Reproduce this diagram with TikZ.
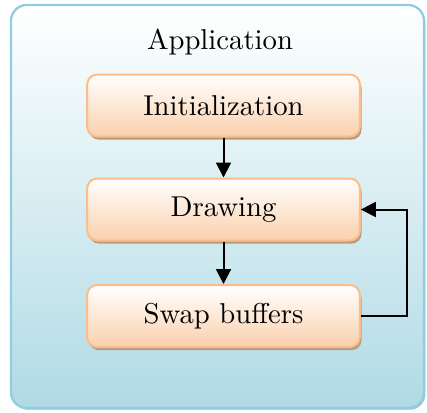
\documentclass[tikz,border=0pt]{standalone}
\usetikzlibrary{arrows.meta,shadows,positioning}
\definecolor{appborder}{RGB}{142,206,224}
\definecolor{appbottom}{RGB}{176,218,229}
\definecolor{stepborder}{RGB}{250,190,140}
\definecolor{stepbottom}{RGB}{250,208,172}
\definecolor{stepshadow}{RGB}{184,156,128}
\definecolor{appshadow}{RGB}{150,170,180}
\tikzset{
  appbox/.style={draw=appborder, line width=0.8pt, rounded corners=5.5pt,
    top color=white, bottom color=appbottom,
    drop shadow={shadow xshift=0.5pt, shadow yshift=-0.6pt, fill=appshadow, opacity=0.8}},
  stepbox/.style={draw=stepborder, line width=0.7pt, rounded corners=3.5pt,
    top color=white, bottom color=stepbottom,
    minimum width=95pt, minimum height=21.6pt, inner sep=0pt,
    drop shadow={shadow xshift=0.6pt, shadow yshift=-1.1pt, fill=stepshadow, opacity=1}},
  flow/.style={line width=0.7pt, -{Triangle[width=5.2pt,length=5.2pt]}}
}
\begin{document}
\begin{tikzpicture}[x=0.3484pt, y=-0.3484pt]
  \useasboundingbox (0,0) rectangle (427,412);
  % application frame
  \path[appbox] (11,5) rectangle (424,408);
  \node (title) at (220,42) {Application};
  % steps of the loop
  \node[stepbox] (init) at (223.5,105.5) {Initialization};
  \node[stepbox] (draw) at (223.5,209.5) {Drawing};
  \node[stepbox] (swap) at (223.5,316) {Swap buffers};
  \coordinate (loopa) at (407,316);
  \coordinate (loopb) at (407,209.5);
  % connectors
  \draw[flow] (init) -- (draw);
  \draw[flow] (draw) -- (swap);
  \draw[flow] (swap.east) -- (loopa) -- (loopb) -- (draw.east);
\end{tikzpicture}
\end{document}
